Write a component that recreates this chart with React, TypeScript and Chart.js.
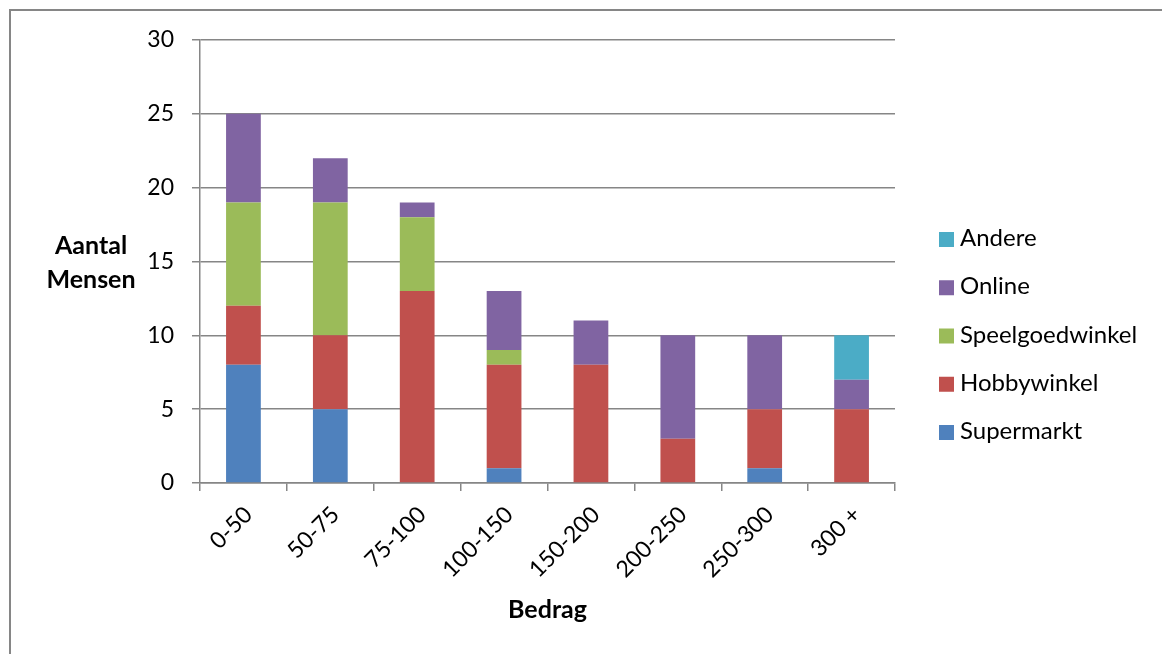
import React, { useEffect, useRef } from "react";
import { Chart, registerables } from "chart.js";

Chart.register(...registerables);

const categories = ["0-50", "50-75", "75-100", "100-150", "150-200", "200-250", "250-300", "300 +"];
const supermarkt = [8, 5, 0, 1, 0, 0, 1, 0];
const hobbywinkel = [4, 5, 13, 7, 8, 3, 4, 5];
const speelgoedwinkel = [7, 9, 5, 1, 0, 0, 0, 0];
const online = [6, 3, 1, 4, 3, 7, 5, 2];
const andere = [0, 0, 0, 0, 0, 0, 0, 3];
const seriesNames = ["Supermarkt", "Hobbywinkel", "Speelgoedwinkel", "Online", "Andere"];
const seriesColors = ["#4F81BD", "#C0504D", "#9BBB59", "#8064A2", "#4BACC6"];
const yTicks = [0, 5, 10, 15, 20, 25, 30];
const yTitle = ["Aantal", "Mensen"];
const xTitle = "Bedrag";

const FONT = "Lato, 'Open Sans', sans-serif";
const GRID = "#868686";

const overlay = {
  id: "overlay",
  afterDraw(chart: any) {
    const { ctx, chartArea: a } = chart;
    ctx.save();
    ctx.fillStyle = "#000";
    ctx.textBaseline = "alphabetic";
    ctx.textAlign = "center";
    ctx.font = `bold 25px ${FONT}`;
    const cy = (a.top + a.bottom) / 2;
    ctx.fillText(yTitle[0], a.left - 109, cy - 7.5);
    ctx.fillText(yTitle[1], a.left - 109, cy + 26.5);
    ctx.fillText(xTitle, (a.left + a.right) / 2, a.bottom + 135);
    // legend (reversed)
    ctx.textAlign = "left";
    ctx.font = `24px ${FONT}`;
    const ds = chart.data.datasets;
    const n = ds.length;
    const bx = a.right + 44;
    for (let k = 0; k < n; k++) {
      const d = ds[n - 1 - k];
      const baseY = a.top + 206 + k * 48.25;
      ctx.fillStyle = d.backgroundColor;
      ctx.fillRect(bx, baseY - 14, 15, 15);
      ctx.fillStyle = "#000";
      ctx.fillText(d.label, bx + 21, baseY);
    }
    ctx.restore();
  },
};

export default function App() {
  const ref = useRef<HTMLCanvasElement>(null);
  useEffect(() => {
    const seriesData = [supermarkt, hobbywinkel, speelgoedwinkel, online, andere];
    const chart = new Chart(ref.current!, {
      type: "bar",
      data: {
        labels: categories,
        datasets: seriesData.map((d, i) => ({
          label: seriesNames[i],
          data: d,
          backgroundColor: seriesColors[i],
          borderWidth: 0,
          categoryPercentage: 1,
          barPercentage: 0.4,
        })),
      },
      options: {
        animation: false,
        responsive: false,
        maintainAspectRatio: false,
        layout: { padding: { left: 0, right: 267, top: 40, bottom: 0 } },
        plugins: { legend: { display: false }, tooltip: { enabled: false } },
        scales: {
          x: {
            stacked: true,
            offset: true,
            afterFit: (s: any) => {
              s.height = 171;
            },
            grid: {
              display: true,
              offset: true,
              drawOnChartArea: false,
              drawTicks: true,
              tickLength: 8,
              color: GRID,
              lineWidth: 1.5,
            },
            border: { display: true, color: GRID, width: 1.5 },
            ticks: {
              color: "#000",
              font: { family: FONT, size: 23 },
              minRotation: 45,
              maxRotation: 45,
              padding: 10,
              labelOffset: 5,
              autoSkip: false,
            },
          },
          y: {
            stacked: true,
            min: 0,
            max: 30,
            afterFit: (s: any) => {
              s.width = 200;
            },
            afterBuildTicks: (s: any) => {
              s.ticks = yTicks.map((v) => ({ value: v }));
            },
            grid: { color: GRID, lineWidth: 1.5, drawTicks: true, tickLength: 8 },
            border: { display: true, color: GRID, width: 1.5 },
            ticks: {
              color: "#000",
              font: { family: FONT, size: 23 },
              padding: 18,
            },
          },
        },
      },
      plugins: [overlay],
    });
    return () => chart.destroy();
  }, []);
  return (
    <div style={{ position: "absolute", left: 0, top: 0, width: 1162, height: 654, overflow: "hidden", background: "#fff" }}>
      <div
        style={{
          position: "absolute",
          left: 9,
          top: 9,
          width: 1200,
          height: 700,
          borderTop: `2px solid ${GRID}`,
          borderLeft: `2px solid ${GRID}`,
        }}
      />
      <canvas ref={ref} width={1162} height={654} style={{ position: "absolute", left: 0, top: 0, display: "block" }} />
    </div>
  );
}
